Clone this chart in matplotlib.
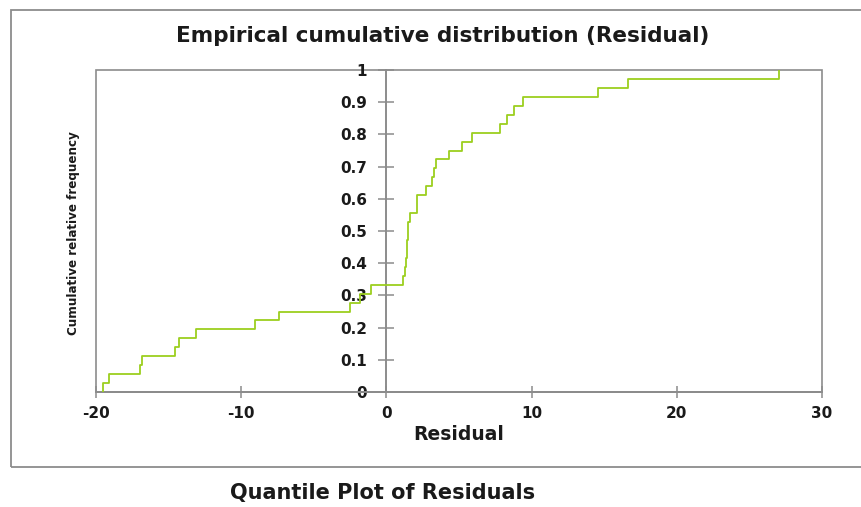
import matplotlib
matplotlib.use("Agg")
import matplotlib.pyplot as plt
from matplotlib.patches import Rectangle
import numpy as np

# sorted residuals (36 observations)
residuals = [
    -19.52, -19.08, -16.97, -16.86, -14.56, -14.27, -13.12, -9.03, -7.43,
    -2.52, -1.79, -1.03, 1.12, 1.26, 1.38, 1.40, 1.42, 1.51, 1.51, 1.63,
    2.13, 2.13, 2.70, 3.12, 3.28, 3.42, 4.31, 5.18, 5.92, 7.82, 8.33,
    8.81, 9.39, 14.60, 16.62, 27.06,
]
x_ticks = [-20, -10, 0, 10, 20, 30]
y_ticks = [0, 0.1, 0.2, 0.3, 0.4, 0.5, 0.6, 0.7, 0.8, 0.9, 1]
y_labels = ["0", "0.1", "0.2", "0.3", "0.4", "0.5", "0.6", "0.7", "0.8", "0.9", "1"]

W, H = 862, 507
GRAY = "#8c8c8c"
TXT = "#1a1a1a"

res = np.sort(np.array(residuals))
n = len(res)
cdf = np.arange(1, n + 1) / n

fig = plt.figure(figsize=(W / 100, H / 100), dpi=100)

# outer chart frame (runs off the right edge)
fig.patches.append(Rectangle((11 / W, 1 - 467 / H), 870 / W, (467 - 10) / H,
                             transform=fig.transFigure, fill=False,
                             ec=GRAY, lw=1.3, zorder=0))

ax = fig.add_axes([96 / W, 1 - 392 / H, (822 - 96) / W, (392 - 70) / H])
ax.set_xlim(-20, 30)
ax.set_ylim(0, 1)

ax.step(np.r_[res[0], res], np.r_[0, cdf], where="post",
        color="#9ccf1f", lw=1.3, zorder=3)

# plot-area box
ax.add_patch(Rectangle((0, 0), 1, 1, transform=ax.transAxes, fill=False,
                       ec=GRAY, lw=1.2, clip_on=False, zorder=1))

for side in ("top", "right"):
    ax.spines[side].set_visible(False)
ax.spines["left"].set_position(("data", 0))
for side in ("left", "bottom"):
    ax.spines[side].set_color(GRAY)
    ax.spines[side].set_linewidth(1.4)

ax.set_xticks(x_ticks)
ax.set_xticklabels([str(t) for t in x_ticks])
ax.set_yticks(y_ticks)
ax.set_yticklabels(y_labels)
ax.tick_params(axis="y", direction="inout", length=12, width=1.1, color=GRAY,
               pad=8, labelsize=11, labelcolor=TXT)
ax.tick_params(axis="x", direction="inout", length=8, width=1.1, color=GRAY,
               pad=6, labelsize=11, labelcolor=TXT)
for lab in ax.get_xticklabels() + ax.get_yticklabels():
    lab.set_fontweight("bold")

ax.set_xlabel("Residual", fontsize=13.5, fontweight="bold", color=TXT,
              labelpad=3)

fig.text(73 / W, 1 - 233 / H, "Cumulative relative frequency",
         rotation=90, ha="center", va="center", fontsize=9.5,
         fontweight="bold", fontstretch="condensed", color=TXT,
         family="DejaVu Sans")

fig.text(443 / W, 1 - 36 / H, "Empirical cumulative distribution (Residual)",
         ha="center", va="center", fontsize=15.5, fontweight="bold", color=TXT)
fig.text(383 / W, 1 - 493 / H, "Quantile Plot of Residuals",
         ha="center", va="center", fontsize=15, fontweight="bold", color=TXT)

fig.savefig("out.png", dpi=100)
